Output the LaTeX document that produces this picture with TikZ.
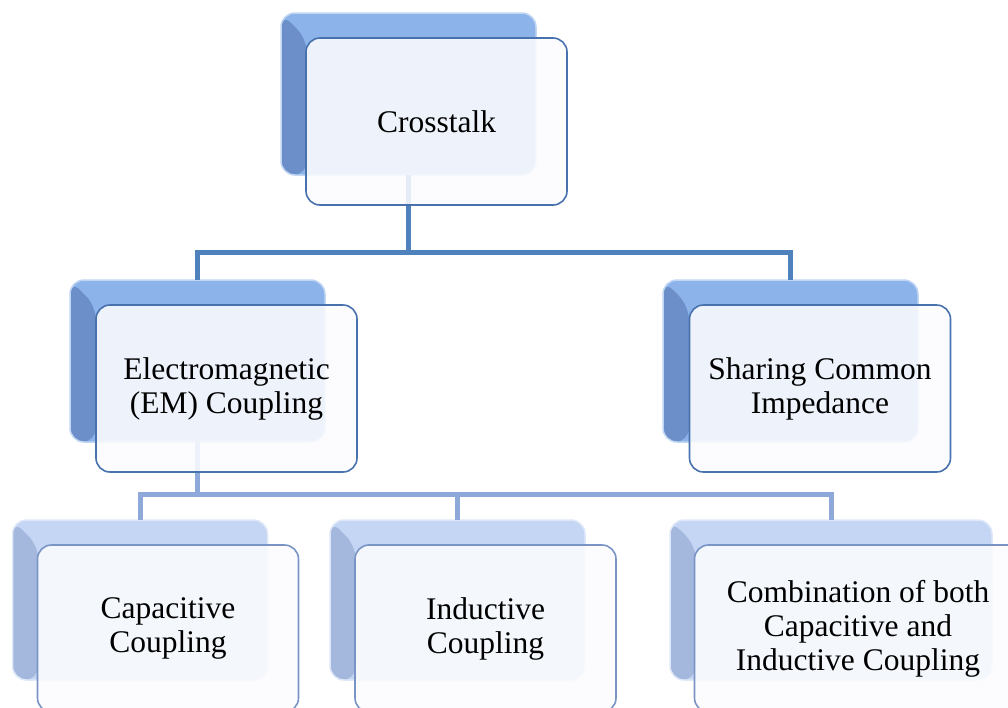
\documentclass[tikz,border=0pt]{standalone}
\usepackage{fontspec}
\setmainfont{Liberation Serif}
\definecolor{bkdark}{RGB}{108,143,201}
\definecolor{bklight}{RGB}{141,180,234}
\definecolor{bkdark3}{RGB}{164,184,222}
\definecolor{bklight3}{RGB}{196,214,243}
\definecolor{edge1}{RGB}{72,114,174}
\definecolor{edge3}{RGB}{122,148,198}
\definecolor{conn1}{RGB}{79,129,189}
\definecolor{conntwo}{RGB}{142,168,218}
\definecolor{frontfill}{RGB}{252,252,254}
\begin{document}
\begin{tikzpicture}[x=1pt,y=-1pt,
  backbox/.style={rounded corners=14pt, minimum width=255pt, minimum height=162pt,
    inner sep=0pt, outer sep=0pt, fill=bklight, draw=bklight!55!white, line width=1.5pt,
    path picture={\fill[bkdark] (path picture bounding box.south west) --
      (path picture bounding box.north west) -- ++(26,26) |- (path picture bounding box.south west) -- cycle;}},
  backboxthree/.style={backbox, minimum height=160pt, fill=bklight3, draw=bklight3!55!white,
    path picture={\fill[bkdark3] (path picture bounding box.south west) --
      (path picture bounding box.north west) -- ++(26,26) |- (path picture bounding box.south west) -- cycle;}},
  frontbox/.style={rounded corners=14pt, minimum width=261pt, minimum height=167pt,
    inner sep=0pt, outer sep=0pt, draw=edge1, line width=1.6pt, fill=frontfill,
    fill opacity=0.87, text opacity=1, align=center, text=black,
    font=\fontsize{31.5}{34}\selectfont},
  frontboxthree/.style={frontbox, draw=edge3},
  connone/.style={line width=5pt, draw=conn1},
  conntwostyle/.style={line width=5pt, draw=conntwo}]
\useasboundingbox (0,0) rectangle (1008,707);

% back (shadow) boxes
\node[backbox] (b1) at (408.5,94) {};
\node[backbox] (b2) at (197.5,361) {};
\node[backbox] (b3) at (790.5,361) {};
\node[backboxthree] (b4) at (140,600) {};
\node[backboxthree] (b5) at (457.5,600) {};
\node[backboxthree, minimum width=322pt] (b6) at (831,600) {};

% connectors
\coordinate (h1) at (0,252);
\coordinate (h2) at (0,494);
\draw[connone] (b1.south) -- (b1.south |- h1) -| (b2.north);
\draw[connone] (b1.south |- h1) -| (b3.north);
\draw[conntwostyle] (b2.south) -- (b2.south |- h2) -| (b4.north);
\draw[conntwostyle] (b2.south |- h2) -| (b6.north);
\draw[conntwostyle] (b5.north |- h2) -- (b5.north);

% front boxes
\node[frontbox] (f1) at (436.5,121.5) {Crosstalk};
\node[frontbox] (f2) at (226.5,388.5) {Electromagnetic\\(EM) Coupling};
\node[frontbox] (f3) at (820,388.5) {Sharing Common\\Impedance};
\node[frontboxthree] (f4) at (168,628.5) {Capacitive\\Coupling};
\node[frontboxthree] (f5) at (485.5,628.5) {Inductive\\Coupling};
\node[frontboxthree, minimum width=327pt] (f6) at (858,628.5) {Combination of both\\Capacitive and\\Inductive Coupling};
\end{tikzpicture}
\end{document}
